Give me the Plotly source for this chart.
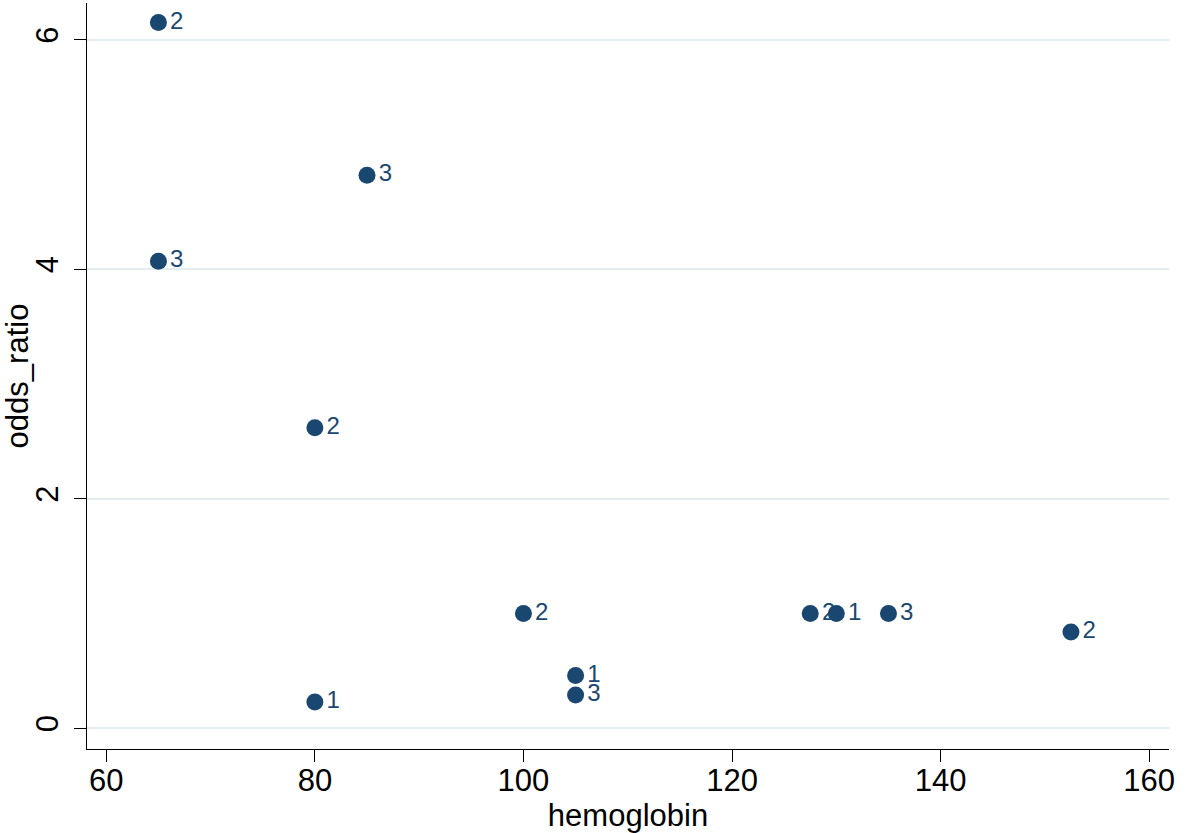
import plotly.graph_objects as go

# Data
hemoglobin = [65, 85, 65, 80, 80, 100, 105, 105, 127.5, 130, 135, 152.5]
odds_ratio = [6.15, 4.82, 4.07, 2.62, 0.23, 1.00, 0.46, 0.29, 1.00, 1.00, 1.00, 0.84]
point_labels = ["2", "3", "3", "2", "1", "2", "1", "3", "2", "1", "3", "2"]

x_ticks = [60, 80, 100, 120, 140, 160]
y_ticks = [0, 2, 4, 6]

navy = "#1a476f"
font_family = "Liberation Sans, Arial, sans-serif"

fig = go.Figure()
fig.add_trace(go.Scatter(
    x=hemoglobin,
    y=odds_ratio,
    mode="markers+text",
    text=point_labels,
    textposition="middle right",
    textfont=dict(family=font_family, size=24, color=navy),
    marker=dict(size=17, color=navy, line=dict(width=0)),
    cliponaxis=False,
    hoverinfo="x+y",
))

fig.update_layout(
    width=1200,
    height=833,
    margin=dict(l=87, r=31, t=3, b=84),
    paper_bgcolor="white",
    plot_bgcolor="white",
    showlegend=False,
    font=dict(family=font_family, color="black"),
    xaxis=dict(
        range=[58.15, 161.9],
        tickvals=x_ticks,
        ticktext=[str(v) for v in x_ticks],
        ticks="outside",
        ticklen=12,
        tickwidth=1.3,
        tickcolor="black",
        showline=True,
        linecolor="black",
        linewidth=1.3,
        showgrid=False,
        zeroline=False,
        tickfont=dict(size=31, color="black"),
        ticklabelstandoff=-8,
        title=dict(text="hemoglobin", font=dict(size=31, color="black"), standoff=8),
        automargin=False,
    ),
    yaxis=dict(
        range=[-0.18, 6.32],
        tickvals=y_ticks,
        ticktext=[str(v) for v in y_ticks],
        tickangle=-90,
        ticks="outside",
        ticklen=12,
        tickwidth=1.3,
        tickcolor="black",
        showline=True,
        linecolor="black",
        linewidth=1.3,
        showgrid=True,
        gridcolor="#e4edf0",
        gridwidth=1.5,
        zeroline=False,
        tickfont=dict(size=31, color="black"),
        ticklabelstandoff=3,
        title=dict(text="odds_ratio", font=dict(size=31, color="black"), standoff=8),
        automargin=False,
    ),
)

fig.write_html(
    "out.html",
    config={"displayModeBar": False},
    post_script="document.body.style.margin='0';document.body.style.padding='0';",
)
